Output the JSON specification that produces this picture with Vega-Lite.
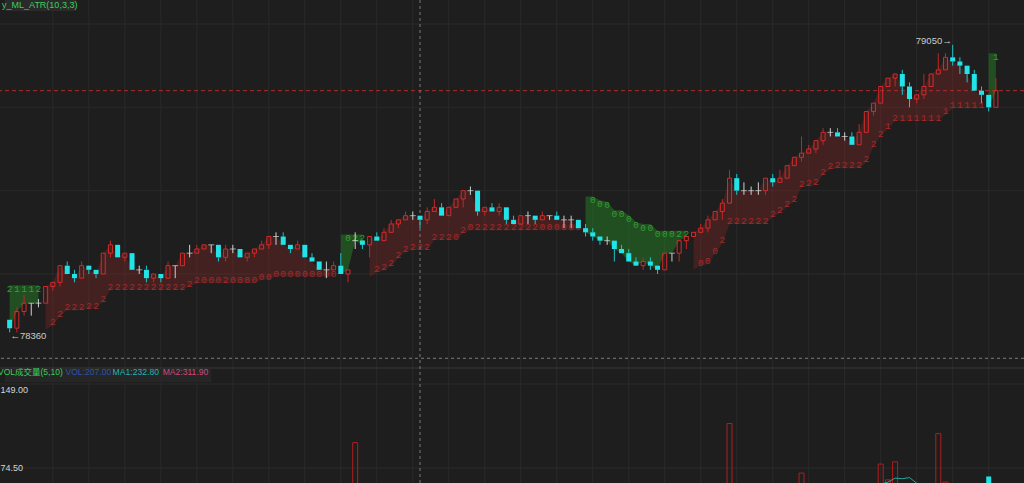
{
"$schema":"https://vega.github.io/schema/vega-lite/v6.json",
"width":1024,"height":483,"padding":0,
"autosize":{"type":"none"},
"background":"#1e1e1e",
"config":{"view":{"stroke":null}},
"datasets":{"k":[
{"i":0,"o":78390,"h":78390,"l":78360,"c":78370,"t":"d","tr":78473,"d":"g","s":0,"n":"2","v":45},
{"i":1,"o":78370,"h":78420,"l":78360,"c":78410,"t":"u","tr":78473,"d":"g","s":0,"n":"1","v":50},
{"i":2,"o":78410,"h":78450,"l":78400,"c":78430,"t":"u","tr":78473,"d":"g","s":0,"n":"1","v":40},
{"i":3,"o":78430,"h":78430,"l":78400,"c":78430,"t":"x","tr":78473,"d":"g","s":0,"n":"1","v":30},
{"i":4,"o":78430,"h":78440,"l":78420,"c":78430,"t":"x","tr":78473,"d":"g","s":0,"n":"2","v":25},
{"i":5,"o":78430,"h":78470,"l":78430,"c":78470,"t":"u","tr":78367,"d":"r","s":1,"n":"","v":50},
{"i":6,"o":78470,"h":78480,"l":78460,"c":78480,"t":"u","tr":78377,"d":"r","s":1,"n":"2","v":30},
{"i":7,"o":78480,"h":78520,"l":78470,"c":78520,"t":"u","tr":78398,"d":"r","s":1,"n":"2","v":48},
{"i":8,"o":78520,"h":78530,"l":78500,"c":78500,"t":"d","tr":78413,"d":"r","s":1,"n":"2","v":35},
{"i":9,"o":78500,"h":78510,"l":78480,"c":78490,"t":"d","tr":78413,"d":"r","s":1,"n":"2","v":28},
{"i":10,"o":78490,"h":78530,"l":78490,"c":78520,"t":"u","tr":78413,"d":"r","s":1,"n":"2","v":40},
{"i":11,"o":78520,"h":78520,"l":78500,"c":78510,"t":"d","tr":78417,"d":"r","s":1,"n":"2","v":25},
{"i":12,"o":78510,"h":78510,"l":78490,"c":78500,"t":"d","tr":78417,"d":"r","s":1,"n":"2","v":22},
{"i":13,"o":78500,"h":78550,"l":78500,"c":78550,"t":"u","tr":78434,"d":"r","s":1,"n":"2","v":52},
{"i":14,"o":78550,"h":78580,"l":78540,"c":78570,"t":"u","tr":78462,"d":"r","s":1,"n":"2","v":45},
{"i":15,"o":78570,"h":78570,"l":78540,"c":78540,"t":"d","tr":78462,"d":"r","s":1,"n":"2","v":40},
{"i":16,"o":78540,"h":78550,"l":78530,"c":78550,"t":"u","tr":78462,"d":"r","s":1,"n":"2","v":20},
{"i":17,"o":78550,"h":78550,"l":78510,"c":78510,"t":"d","tr":78462,"d":"r","s":1,"n":"2","v":42},
{"i":18,"o":78510,"h":78520,"l":78500,"c":78510,"t":"x","tr":78462,"d":"r","s":1,"n":"2","v":18},
{"i":19,"o":78510,"h":78520,"l":78480,"c":78490,"t":"d","tr":78462,"d":"r","s":1,"n":"2","v":35},
{"i":20,"o":78490,"h":78500,"l":78480,"c":78500,"t":"u","tr":78462,"d":"r","s":1,"n":"2","v":20},
{"i":21,"o":78500,"h":78500,"l":78480,"c":78490,"t":"d","tr":78462,"d":"r","s":1,"n":"2","v":18},
{"i":22,"o":78490,"h":78530,"l":78490,"c":78520,"t":"u","tr":78462,"d":"r","s":1,"n":"2","v":38},
{"i":23,"o":78520,"h":78520,"l":78490,"c":78520,"t":"x","tr":78462,"d":"r","s":1,"n":"2","v":22},
{"i":24,"o":78520,"h":78550,"l":78520,"c":78550,"t":"u","tr":78462,"d":"r","s":1,"n":"2","v":33},
{"i":25,"o":78550,"h":78570,"l":78540,"c":78550,"t":"x","tr":78470,"d":"r","s":1,"n":"2","v":25},
{"i":26,"o":78550,"h":78570,"l":78550,"c":78560,"t":"u","tr":78478,"d":"r","s":1,"n":"2","v":20},
{"i":27,"o":78560,"h":78570,"l":78560,"c":78570,"t":"u","tr":78478,"d":"r","s":1,"n":"0","v":18},
{"i":28,"o":78570,"h":78570,"l":78550,"c":78570,"t":"x","tr":78478,"d":"r","s":1,"n":"0","v":15},
{"i":29,"o":78570,"h":78570,"l":78530,"c":78540,"t":"d","tr":78478,"d":"r","s":1,"n":"0","v":35},
{"i":30,"o":78540,"h":78570,"l":78530,"c":78560,"t":"u","tr":78478,"d":"r","s":1,"n":"2","v":30},
{"i":31,"o":78560,"h":78570,"l":78550,"c":78560,"t":"x","tr":78478,"d":"r","s":1,"n":"0","v":15},
{"i":32,"o":78560,"h":78560,"l":78540,"c":78540,"t":"d","tr":78478,"d":"r","s":1,"n":"0","v":25},
{"i":33,"o":78540,"h":78550,"l":78530,"c":78550,"t":"u","tr":78478,"d":"r","s":1,"n":"0","v":18},
{"i":34,"o":78550,"h":78560,"l":78540,"c":78560,"t":"u","tr":78478,"d":"r","s":1,"n":"0","v":18},
{"i":35,"o":78560,"h":78580,"l":78560,"c":78570,"t":"u","tr":78486,"d":"r","s":1,"n":"0","v":20},
{"i":36,"o":78570,"h":78590,"l":78560,"c":78590,"t":"u","tr":78486,"d":"r","s":1,"n":"0","v":28},
{"i":37,"o":78590,"h":78600,"l":78570,"c":78590,"t":"x","tr":78494,"d":"r","s":1,"n":"0","v":22},
{"i":38,"o":78590,"h":78600,"l":78570,"c":78570,"t":"d","tr":78494,"d":"r","s":1,"n":"0","v":30},
{"i":39,"o":78570,"h":78570,"l":78550,"c":78560,"t":"d","tr":78494,"d":"r","s":1,"n":"0","v":18},
{"i":40,"o":78560,"h":78580,"l":78560,"c":78570,"t":"u","tr":78494,"d":"r","s":1,"n":"0","v":16},
{"i":41,"o":78570,"h":78570,"l":78540,"c":78540,"t":"d","tr":78494,"d":"r","s":1,"n":"0","v":32},
{"i":42,"o":78540,"h":78550,"l":78530,"c":78530,"t":"d","tr":78494,"d":"r","s":1,"n":"0","v":20},
{"i":43,"o":78530,"h":78530,"l":78510,"c":78510,"t":"d","tr":78494,"d":"r","s":1,"n":"0","v":28},
{"i":44,"o":78510,"h":78530,"l":78490,"c":78510,"t":"x","tr":78494,"d":"r","s":1,"n":"0","v":24},
{"i":45,"o":78510,"h":78530,"l":78510,"c":78520,"t":"u","tr":78494,"d":"r","s":1,"n":"0","v":18},
{"i":46,"o":78520,"h":78550,"l":78500,"c":78500,"t":"d","tr":78595,"d":"g","s":2,"n":"","v":45},
{"i":47,"o":78500,"h":78510,"l":78480,"c":78510,"t":"u","tr":78595,"d":"g","s":2,"n":"0","v":30},
{"i":48,"o":78580,"h":78600,"l":78560,"c":78580,"t":"x","tr":78595,"d":"g","s":2,"n":"2","v":97},
{"i":49,"o":78580,"h":78580,"l":78560,"c":78570,"t":"d","tr":78595,"d":"g","s":2,"n":"2","v":40},
{"i":50,"o":78570,"h":78590,"l":78540,"c":78590,"t":"u","tr":78493,"d":"r","s":3,"n":"","v":45},
{"i":51,"o":78590,"h":78600,"l":78580,"c":78580,"t":"d","tr":78504,"d":"r","s":3,"n":"2","v":25},
{"i":52,"o":78580,"h":78610,"l":78580,"c":78600,"t":"u","tr":78509,"d":"r","s":3,"n":"2","v":30},
{"i":53,"o":78600,"h":78630,"l":78600,"c":78620,"t":"u","tr":78519,"d":"r","s":3,"n":"2","v":35},
{"i":54,"o":78620,"h":78630,"l":78610,"c":78630,"t":"u","tr":78538,"d":"r","s":3,"n":"2","v":22},
{"i":55,"o":78630,"h":78650,"l":78630,"c":78640,"t":"u","tr":78554,"d":"r","s":3,"n":"2","v":25},
{"i":56,"o":78640,"h":78650,"l":78630,"c":78640,"t":"x","tr":78558,"d":"r","s":3,"n":"2","v":18},
{"i":57,"o":78640,"h":78640,"l":78610,"c":78630,"t":"d","tr":78558,"d":"r","s":3,"n":"2","v":22},
{"i":58,"o":78630,"h":78660,"l":78620,"c":78650,"t":"u","tr":78558,"d":"r","s":3,"n":"2","v":32},
{"i":59,"o":78650,"h":78680,"l":78650,"c":78660,"t":"u","tr":78582,"d":"r","s":3,"n":"2","v":30},
{"i":60,"o":78660,"h":78670,"l":78640,"c":78640,"t":"d","tr":78582,"d":"r","s":3,"n":"2","v":28},
{"i":61,"o":78640,"h":78660,"l":78640,"c":78660,"t":"u","tr":78582,"d":"r","s":3,"n":"2","v":25},
{"i":62,"o":78660,"h":78680,"l":78660,"c":78680,"t":"u","tr":78582,"d":"r","s":3,"n":"0","v":30},
{"i":63,"o":78680,"h":78700,"l":78660,"c":78700,"t":"u","tr":78598,"d":"r","s":3,"n":"2","v":38},
{"i":64,"o":78700,"h":78710,"l":78690,"c":78700,"t":"x","tr":78605,"d":"r","s":3,"n":"0","v":25},
{"i":65,"o":78700,"h":78700,"l":78640,"c":78650,"t":"d","tr":78605,"d":"r","s":3,"n":"2","v":55},
{"i":66,"o":78650,"h":78660,"l":78640,"c":78660,"t":"u","tr":78605,"d":"r","s":3,"n":"2","v":20},
{"i":67,"o":78660,"h":78670,"l":78650,"c":78650,"t":"d","tr":78605,"d":"r","s":3,"n":"2","v":18},
{"i":68,"o":78650,"h":78670,"l":78640,"c":78660,"t":"u","tr":78605,"d":"r","s":3,"n":"2","v":20},
{"i":69,"o":78660,"h":78660,"l":78620,"c":78630,"t":"d","tr":78605,"d":"r","s":3,"n":"2","v":35},
{"i":70,"o":78630,"h":78640,"l":78620,"c":78620,"t":"d","tr":78605,"d":"r","s":3,"n":"2","v":18},
{"i":71,"o":78620,"h":78640,"l":78620,"c":78640,"t":"u","tr":78605,"d":"r","s":3,"n":"2","v":22},
{"i":72,"o":78640,"h":78650,"l":78620,"c":78640,"t":"x","tr":78605,"d":"r","s":3,"n":"2","v":15},
{"i":73,"o":78640,"h":78640,"l":78620,"c":78630,"t":"d","tr":78605,"d":"r","s":3,"n":"2","v":15},
{"i":74,"o":78630,"h":78650,"l":78630,"c":78640,"t":"u","tr":78605,"d":"r","s":3,"n":"0","v":15},
{"i":75,"o":78640,"h":78640,"l":78630,"c":78640,"t":"x","tr":78605,"d":"r","s":3,"n":"0","v":12},
{"i":76,"o":78640,"h":78650,"l":78630,"c":78630,"t":"d","tr":78605,"d":"r","s":3,"n":"0","v":14},
{"i":77,"o":78630,"h":78640,"l":78610,"c":78630,"t":"x","tr":78605,"d":"r","s":3,"n":"0","v":15},
{"i":78,"o":78630,"h":78640,"l":78610,"c":78630,"t":"x","tr":78605,"d":"r","s":3,"n":"0","v":14},
{"i":79,"o":78630,"h":78630,"l":78610,"c":78610,"t":"d","tr":78605,"d":"r","s":3,"n":"0","v":28},
{"i":80,"o":78610,"h":78620,"l":78590,"c":78600,"t":"d","tr":78686,"d":"g","s":4,"n":"","v":30},
{"i":81,"o":78600,"h":78610,"l":78580,"c":78590,"t":"d","tr":78686,"d":"g","s":4,"n":"0","v":25},
{"i":82,"o":78590,"h":78590,"l":78570,"c":78580,"t":"d","tr":78677,"d":"g","s":4,"n":"0","v":22},
{"i":83,"o":78580,"h":78590,"l":78570,"c":78580,"t":"x","tr":78673,"d":"g","s":4,"n":"0","v":15},
{"i":84,"o":78580,"h":78580,"l":78530,"c":78560,"t":"d","tr":78653,"d":"g","s":4,"n":"0","v":38},
{"i":85,"o":78560,"h":78570,"l":78550,"c":78550,"t":"d","tr":78653,"d":"g","s":4,"n":"0","v":20},
{"i":86,"o":78550,"h":78560,"l":78530,"c":78530,"t":"d","tr":78641,"d":"g","s":4,"n":"0","v":35},
{"i":87,"o":78530,"h":78540,"l":78520,"c":78520,"t":"d","tr":78625,"d":"g","s":4,"n":"0","v":22},
{"i":88,"o":78520,"h":78540,"l":78510,"c":78530,"t":"u","tr":78620,"d":"g","s":4,"n":"0","v":25},
{"i":89,"o":78530,"h":78540,"l":78510,"c":78520,"t":"d","tr":78620,"d":"g","s":4,"n":"0","v":22},
{"i":90,"o":78520,"h":78520,"l":78500,"c":78510,"t":"d","tr":78604,"d":"g","s":4,"n":"0","v":25},
{"i":91,"o":78510,"h":78550,"l":78510,"c":78550,"t":"u","tr":78604,"d":"g","s":4,"n":"0","v":48},
{"i":92,"o":78550,"h":78550,"l":78530,"c":78550,"t":"x","tr":78604,"d":"g","s":4,"n":"0","v":20},
{"i":93,"o":78550,"h":78580,"l":78530,"c":78580,"t":"u","tr":78604,"d":"g","s":4,"n":"2","v":42},
{"i":94,"o":78580,"h":78590,"l":78560,"c":78590,"t":"u","tr":78604,"d":"g","s":4,"n":"2","v":28},
{"i":95,"o":78590,"h":78600,"l":78590,"c":78600,"t":"u","tr":78511,"d":"r","s":5,"n":"","v":20},
{"i":96,"o":78600,"h":78620,"l":78600,"c":78610,"t":"u","tr":78520,"d":"r","s":5,"n":"0","v":22},
{"i":97,"o":78610,"h":78640,"l":78600,"c":78630,"t":"u","tr":78524,"d":"r","s":5,"n":"0","v":32},
{"i":98,"o":78630,"h":78650,"l":78630,"c":78650,"t":"u","tr":78549,"d":"r","s":5,"n":"0","v":30},
{"i":99,"o":78650,"h":78680,"l":78630,"c":78670,"t":"u","tr":78574,"d":"r","s":5,"n":"2","v":38},
{"i":100,"o":78670,"h":78750,"l":78670,"c":78730,"t":"u","tr":78620,"d":"r","s":5,"n":"2","v":114},
{"i":101,"o":78730,"h":78740,"l":78690,"c":78700,"t":"d","tr":78620,"d":"r","s":5,"n":"2","v":50},
{"i":102,"o":78700,"h":78720,"l":78690,"c":78700,"t":"x","tr":78620,"d":"r","s":5,"n":"2","v":25},
{"i":103,"o":78700,"h":78710,"l":78690,"c":78700,"t":"x","tr":78620,"d":"r","s":5,"n":"2","v":18},
{"i":104,"o":78700,"h":78720,"l":78690,"c":78700,"t":"x","tr":78620,"d":"r","s":5,"n":"2","v":20},
{"i":105,"o":78700,"h":78730,"l":78690,"c":78730,"t":"u","tr":78620,"d":"r","s":5,"n":"2","v":35},
{"i":106,"o":78730,"h":78740,"l":78710,"c":78720,"t":"d","tr":78636,"d":"r","s":5,"n":"2","v":22},
{"i":107,"o":78720,"h":78750,"l":78720,"c":78730,"t":"u","tr":78646,"d":"r","s":5,"n":"2","v":30},
{"i":108,"o":78730,"h":78760,"l":78730,"c":78760,"t":"u","tr":78662,"d":"r","s":5,"n":"2","v":40},
{"i":109,"o":78760,"h":78780,"l":78760,"c":78780,"t":"u","tr":78674,"d":"r","s":5,"n":"2","v":35},
{"i":110,"o":78780,"h":78830,"l":78770,"c":78790,"t":"u","tr":78708,"d":"r","s":5,"n":"2","v":70},
{"i":111,"o":78790,"h":78810,"l":78790,"c":78800,"t":"u","tr":78711,"d":"r","s":5,"n":"2","v":25},
{"i":112,"o":78800,"h":78820,"l":78790,"c":78820,"t":"u","tr":78714,"d":"r","s":5,"n":"2","v":30},
{"i":113,"o":78820,"h":78850,"l":78810,"c":78840,"t":"u","tr":78738,"d":"r","s":5,"n":"2","v":40},
{"i":114,"o":78840,"h":78850,"l":78830,"c":78840,"t":"x","tr":78751,"d":"r","s":5,"n":"2","v":22},
{"i":115,"o":78840,"h":78850,"l":78830,"c":78830,"t":"d","tr":78754,"d":"r","s":5,"n":"2","v":20},
{"i":116,"o":78830,"h":78840,"l":78820,"c":78830,"t":"x","tr":78754,"d":"r","s":5,"n":"2","v":18},
{"i":117,"o":78830,"h":78840,"l":78810,"c":78810,"t":"d","tr":78754,"d":"r","s":5,"n":"2","v":35},
{"i":118,"o":78810,"h":78860,"l":78810,"c":78840,"t":"u","tr":78754,"d":"r","s":5,"n":"2","v":60},
{"i":119,"o":78840,"h":78890,"l":78840,"c":78890,"t":"u","tr":78768,"d":"r","s":5,"n":"2","v":57},
{"i":120,"o":78890,"h":78910,"l":78880,"c":78910,"t":"u","tr":78806,"d":"r","s":5,"n":"2","v":48,"m":57},
{"i":121,"o":78910,"h":78950,"l":78910,"c":78950,"t":"u","tr":78830,"d":"r","s":5,"n":"2","v":78,"m":60},
{"i":122,"o":78950,"h":78970,"l":78950,"c":78970,"t":"u","tr":78849,"d":"r","s":5,"n":"1","v":64,"m":62},
{"i":123,"o":78970,"h":78980,"l":78950,"c":78980,"t":"u","tr":78868,"d":"r","s":5,"n":"2","v":80,"m":65.5},
{"i":124,"o":78980,"h":78990,"l":78930,"c":78950,"t":"d","tr":78868,"d":"r","s":5,"n":"1","v":55,"m":65},
{"i":125,"o":78950,"h":78960,"l":78900,"c":78920,"t":"d","tr":78868,"d":"r","s":5,"n":"1","v":53,"m":66},
{"i":126,"o":78920,"h":78930,"l":78910,"c":78930,"t":"u","tr":78868,"d":"r","s":5,"n":"1","v":53,"m":61},
{"i":127,"o":78930,"h":78980,"l":78920,"c":78950,"t":"u","tr":78868,"d":"r","s":5,"n":"1","v":50,"m":58},
{"i":128,"o":78950,"h":78980,"l":78950,"c":78980,"t":"u","tr":78868,"d":"r","s":5,"n":"1","v":45},
{"i":129,"o":78980,"h":79030,"l":78980,"c":78990,"t":"u","tr":78868,"d":"r","s":5,"n":"1","v":105},
{"i":130,"o":78990,"h":79030,"l":78990,"c":79020,"t":"u","tr":78883,"d":"r","s":5,"n":"1","v":62},
{"i":131,"o":79020,"h":79050,"l":79000,"c":79010,"t":"d","tr":78898,"d":"r","s":5,"n":"1","v":58},
{"i":132,"o":79010,"h":79020,"l":78980,"c":79000,"t":"d","tr":78898,"d":"r","s":5,"n":"1","v":40},
{"i":133,"o":79000,"h":79000,"l":78960,"c":78980,"t":"d","tr":78898,"d":"r","s":5,"n":"1","v":42},
{"i":134,"o":78980,"h":78990,"l":78940,"c":78940,"t":"d","tr":78898,"d":"r","s":5,"n":"1","v":50},
{"i":135,"o":78940,"h":78950,"l":78910,"c":78930,"t":"d","tr":78898,"d":"r","s":5,"n":"1","v":35},
{"i":136,"o":78930,"h":78930,"l":78890,"c":78900,"t":"d","tr":79030,"d":"g","s":6,"n":"","v":67},
{"i":137,"o":78900,"h":78970,"l":78900,"c":78940,"t":"u","tr":79030,"d":"g","s":6,"n":"1","v":55}
]},
"data":{"name":"k"},
"resolve":{"scale":{"y":"independent"}},
"layer":[
{"data":{"values":[{"g":6},{"g":11},{"g":16},{"g":21},{"g":26},{"g":31},{"g":36},{"g":41},{"g":46},{"g":51},{"g":56},{"g":61},{"g":66},{"g":71},{"g":76},{"g":81},{"g":86},{"g":91},{"g":96},{"g":101},{"g":106},{"g":111},{"g":116},{"g":121},{"g":126},{"g":131},{"g":136}]},
 "mark":{"type":"rule","color":"#2a2a2a","strokeWidth":1},
 "encoding":{"x":{"field":"g","type":"quantitative","scale":{"domain":[-0.647,140.21],"nice":false},"axis":null}}},
{"data":{"values":[{"p":78500},{"p":78700},{"p":78900},{"p":79100}]},
 "mark":{"type":"rule","color":"#2a2a2a","strokeWidth":1},
 "encoding":{"y":{"field":"p","type":"quantitative","scale":{"domain":[77998.4,79157.6]},"axis":null}}},
{"data":{"values":[{"q":74.5},{"q":149}]},
 "mark":{"type":"rule","color":"#2a2a2a","strokeWidth":1},
 "encoding":{"y":{"field":"q","type":"quantitative","scale":{"domain":[61.2,489.6]},"axis":null}}},
{"data":{"values":[{}]},
 "mark":{"type":"rule","color":"#383838","strokeWidth":1},
 "encoding":{"y":{"datum":163.2,"type":"quantitative","scale":{"domain":[61.2,489.6]},"axis":null}}},
{"data":{"values":[{}]},
 "mark":{"type":"rect","color":"#262626"},
 "encoding":{"x":{"datum":-0.647,"type":"quantitative","scale":{"domain":[-0.647,140.21],"nice":false},"axis":null},"x2":{"datum":28},
  "y":{"datum":162.3,"type":"quantitative","scale":{"domain":[61.2,489.6]},"axis":null},"y2":{"datum":150.8}}},
{"data":{"values":[{}]},
 "mark":{"type":"rect","color":"#2a2a2a"},
 "encoding":{"x":{"datum":-0.647,"type":"quantitative","scale":{"domain":[-0.647,140.21],"nice":false},"axis":null},"x2":{"datum":9.2},
  "y":{"datum":79157.6,"type":"quantitative","scale":{"domain":[77998.4,79157.6]},"axis":null},"y2":{"datum":79131.2}}},
{"transform":[{"filter":"datum.d=='r'"}],
 "mark":{"type":"area","color":"#962828","opacity":0.32},
 "encoding":{"x":{"field":"i","type":"quantitative","scale":{"domain":[-0.647,140.21],"nice":false},"axis":null},
  "y":{"field":"tr","type":"quantitative","scale":{"domain":[77998.4,79157.6]},"axis":null},"y2":{"field":"c"},"detail":{"field":"s"}}},
{"transform":[{"filter":"datum.d=='g'"}],
 "mark":{"type":"area","color":"#288c28","opacity":0.45},
 "encoding":{"x":{"field":"i","type":"quantitative","scale":{"domain":[-0.647,140.21],"nice":false},"axis":null},
  "y":{"field":"tr","type":"quantitative","scale":{"domain":[77998.4,79157.6]},"axis":null},"y2":{"field":"c"},"detail":{"field":"s"}}},
{"transform":[{"filter":"datum.d=='r' && datum.n!=''"}],
 "mark":{"type":"text","color":"#a52a2a","font":"Liberation Mono","fontSize":9.5,"baseline":"middle","dy":-3},
 "encoding":{"x":{"field":"i","type":"quantitative","scale":{"domain":[-0.647,140.21],"nice":false},"axis":null},
  "y":{"field":"tr","type":"quantitative","scale":{"domain":[77998.4,79157.6]},"axis":null},"text":{"field":"n"}}},
{"transform":[{"filter":"datum.d=='g' && datum.n!=''"}],
 "mark":{"type":"text","color":"#2fa02f","font":"Liberation Mono","fontSize":9.5,"baseline":"middle","dy":3.5},
 "encoding":{"x":{"field":"i","type":"quantitative","scale":{"domain":[-0.647,140.21],"nice":false},"axis":null},
  "y":{"field":"tr","type":"quantitative","scale":{"domain":[77998.4,79157.6]},"axis":null},"text":{"field":"n"}}},
{"data":{"values":[{}]},
 "mark":{"type":"rule","color":"#b22a2a","strokeDash":[4,3],"strokeWidth":1},
 "encoding":{"y":{"datum":78940,"type":"quantitative","scale":{"domain":[77998.4,79157.6]},"axis":null}}},
{"data":{"values":[{}]},
 "mark":{"type":"rule","color":"#7c7c7c","strokeDash":[3,3],"strokeWidth":1},
 "encoding":{"y":{"datum":78297.7,"type":"quantitative","scale":{"domain":[77998.4,79157.6]},"axis":null}}},
{"data":{"values":[{}]},
 "mark":{"type":"rule","color":"#7c7c7c","strokeDash":[3,3],"strokeWidth":1},
 "encoding":{"x":{"datum":57,"type":"quantitative","scale":{"domain":[-0.647,140.21],"nice":false},"axis":null}}},
{"transform":[{"filter":"datum.t=='u'"}],
 "mark":{"type":"rule","color":"#c42525","strokeWidth":1},
 "encoding":{"x":{"field":"i","type":"quantitative","scale":{"domain":[-0.647,140.21],"nice":false},"axis":null},
  "y":{"field":"h","type":"quantitative","scale":{"domain":[77998.4,79157.6]},"axis":null},"y2":{"field":"c"}}},
{"transform":[{"filter":"datum.t=='u'"}],
 "mark":{"type":"rule","color":"#c42525","strokeWidth":1},
 "encoding":{"x":{"field":"i","type":"quantitative","scale":{"domain":[-0.647,140.21],"nice":false},"axis":null},
  "y":{"field":"o","type":"quantitative","scale":{"domain":[77998.4,79157.6]},"axis":null},"y2":{"field":"l"}}},
{"transform":[{"filter":"datum.t=='d'"}],
 "mark":{"type":"rule","color":"#1cc4c8","strokeWidth":1},
 "encoding":{"x":{"field":"i","type":"quantitative","scale":{"domain":[-0.647,140.21],"nice":false},"axis":null},
  "y":{"field":"h","type":"quantitative","scale":{"domain":[77998.4,79157.6]},"axis":null},"y2":{"field":"o"}}},
{"transform":[{"filter":"datum.t=='d'"}],
 "mark":{"type":"rule","color":"#1cc4c8","strokeWidth":1},
 "encoding":{"x":{"field":"i","type":"quantitative","scale":{"domain":[-0.647,140.21],"nice":false},"axis":null},
  "y":{"field":"c","type":"quantitative","scale":{"domain":[77998.4,79157.6]},"axis":null},"y2":{"field":"l"}}},
{"transform":[{"filter":"datum.t=='x'"}],
 "mark":{"type":"rule","color":"#cfcfcf","strokeWidth":1},
 "encoding":{"x":{"field":"i","type":"quantitative","scale":{"domain":[-0.647,140.21],"nice":false},"axis":null},
  "y":{"field":"h","type":"quantitative","scale":{"domain":[77998.4,79157.6]},"axis":null},"y2":{"field":"l"}}},
{"transform":[{"filter":"datum.t=='u'"}],
 "mark":{"type":"bar","color":"#d62a2a","filled":false,"strokeWidth":1,"width":4},
 "encoding":{"x":{"field":"i","type":"quantitative","scale":{"domain":[-0.647,140.21],"nice":false},"axis":null},
  "y":{"field":"o","type":"quantitative","scale":{"domain":[77998.4,79157.6]},"axis":null},"y2":{"field":"c"}}},
{"transform":[{"filter":"datum.t=='d'"}],
 "mark":{"type":"bar","color":"#22e4e8","width":5},
 "encoding":{"x":{"field":"i","type":"quantitative","scale":{"domain":[-0.647,140.21],"nice":false},"axis":null},
  "y":{"field":"o","type":"quantitative","scale":{"domain":[77998.4,79157.6]},"axis":null},"y2":{"field":"c"}}},
{"transform":[{"filter":"datum.t=='x'"}],
 "mark":{"type":"tick","color":"#d8d8d8","orient":"horizontal","size":6,"thickness":1},
 "encoding":{"x":{"field":"i","type":"quantitative","scale":{"domain":[-0.647,140.21],"nice":false},"axis":null},
  "y":{"field":"c","type":"quantitative","scale":{"domain":[77998.4,79157.6]},"axis":null}}},
{"transform":[{"filter":"datum.t!='d'"}],
 "mark":{"type":"bar","color":"#b01e1e","filled":false,"strokeWidth":1,"width":5,"clip":true},
 "encoding":{"x":{"field":"i","type":"quantitative","scale":{"domain":[-0.647,140.21],"nice":false},"axis":null},
  "y":{"field":"v","type":"quantitative","scale":{"domain":[61.2,489.6]},"axis":null},"y2":{"datum":0}}},
{"transform":[{"filter":"datum.t=='d'"}],
 "mark":{"type":"bar","color":"#1de3e3","width":5,"clip":true},
 "encoding":{"x":{"field":"i","type":"quantitative","scale":{"domain":[-0.647,140.21],"nice":false},"axis":null},
  "y":{"field":"v","type":"quantitative","scale":{"domain":[61.2,489.6]},"axis":null},"y2":{"datum":0}}},
{"transform":[{"filter":"isValid(datum.m)"}],
 "mark":{"type":"line","color":"#1fa8a0","strokeWidth":1,"clip":true},
 "encoding":{"x":{"field":"i","type":"quantitative","scale":{"domain":[-0.647,140.21],"nice":false},"axis":null},
  "y":{"field":"m","type":"quantitative","scale":{"domain":[61.2,489.6]},"axis":null}}},
{"data":{"values":[{}]},
 "mark":{"type":"text","text":"y_ML_ATR(10,3,3)","color":"#3ccf5c","font":"Liberation Sans","fontSize":9,"align":"left","baseline":"middle","clip":true},
 "encoding":{"x":{"datum":-1.06,"type":"quantitative","scale":{"domain":[-0.647,140.21],"nice":false},"axis":null},"y":{"datum":79146.8,"type":"quantitative","scale":{"domain":[77998.4,79157.6]},"axis":null}}},
{"data":{"values":[{}]},
 "mark":{"type":"text","text":"VOL成交量(5,10)","color":"#3ccf5c","font":"Liberation Sans, Noto Sans CJK SC","fontSize":8.5,"align":"left","baseline":"middle","clip":true},
 "encoding":{"x":{"datum":-1.62,"type":"quantitative","scale":{"domain":[-0.647,140.21],"nice":false},"axis":null},"y":{"datum":159.6,"type":"quantitative","scale":{"domain":[61.2,489.6]},"axis":null}}},
{"data":{"values":[{}]},
 "mark":{"type":"text","text":"VOL:207.00","color":"#2a55b0","font":"Liberation Sans","fontSize":8.6,"align":"left","baseline":"middle","clip":true},
 "encoding":{"x":{"datum":7.75,"type":"quantitative","scale":{"domain":[-0.647,140.21],"nice":false},"axis":null},"y":{"datum":159.6,"type":"quantitative","scale":{"domain":[61.2,489.6]},"axis":null}}},
{"data":{"values":[{}]},
 "mark":{"type":"text","text":"MA1:232.80","color":"#1fb5b0","font":"Liberation Sans","fontSize":8.6,"align":"left","baseline":"middle","clip":true},
 "encoding":{"x":{"datum":14.3,"type":"quantitative","scale":{"domain":[-0.647,140.21],"nice":false},"axis":null},"y":{"datum":159.6,"type":"quantitative","scale":{"domain":[61.2,489.6]},"axis":null}}},
{"data":{"values":[{}]},
 "mark":{"type":"text","text":"MA2:311.90","color":"#cc4a80","font":"Liberation Sans","fontSize":8.6,"align":"left","baseline":"middle","clip":true},
 "encoding":{"x":{"datum":21.25,"type":"quantitative","scale":{"domain":[-0.647,140.21],"nice":false},"axis":null},"y":{"datum":159.6,"type":"quantitative","scale":{"domain":[61.2,489.6]},"axis":null}}},
{"data":{"values":[{}]},
 "mark":{"type":"text","text":"149.00","color":"#d6d6d6","font":"Liberation Sans","fontSize":9,"align":"left","baseline":"top","dy":2,"clip":true},
 "encoding":{"x":{"datum":-1.267,"type":"quantitative","scale":{"domain":[-0.647,140.21],"nice":false},"axis":null},"y":{"datum":149,"type":"quantitative","scale":{"domain":[61.2,489.6]},"axis":null}}},
{"data":{"values":[{}]},
 "mark":{"type":"text","text":"74.50","color":"#d6d6d6","font":"Liberation Sans","fontSize":9,"align":"left","baseline":"middle","clip":true},
 "encoding":{"x":{"datum":-1.267,"type":"quantitative","scale":{"domain":[-0.647,140.21],"nice":false},"axis":null},"y":{"datum":74.5,"type":"quantitative","scale":{"domain":[61.2,489.6]},"axis":null}}},
{"data":{"values":[{}]},
 "mark":{"type":"text","text":"79050→","color":"#cccccc","font":"Liberation Sans","fontSize":9.5,"align":"right","baseline":"middle","dx":-1},
 "encoding":{"x":{"datum":131,"type":"quantitative","scale":{"domain":[-0.647,140.21],"nice":false},"axis":null},"y":{"datum":79060,"type":"quantitative","scale":{"domain":[77998.4,79157.6]},"axis":null}}},
{"data":{"values":[{}]},
 "mark":{"type":"text","text":"←78360","color":"#cccccc","font":"Liberation Sans","fontSize":9.5,"align":"left","baseline":"middle"},
 "encoding":{"x":{"datum":0.1,"type":"quantitative","scale":{"domain":[-0.647,140.21],"nice":false},"axis":null},"y":{"datum":78351,"type":"quantitative","scale":{"domain":[77998.4,79157.6]},"axis":null}}}
]
}
